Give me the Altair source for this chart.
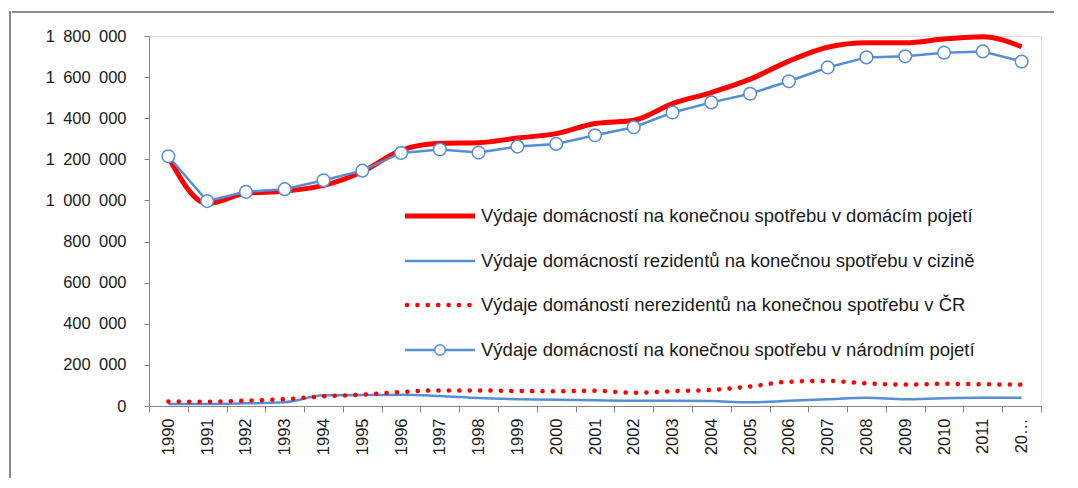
import altair as alt
import pandas as pd

years = list(range(1990, 2013))
domestic = [1210000, 985000, 1035000, 1045000, 1073000, 1140000, 1244000, 1278000,
            1281000, 1304000, 1325000, 1374000, 1390000, 1471000, 1525000, 1590000,
            1678000, 1745000, 1767000, 1767000, 1785000, 1796000, 1748000]
national = [1215000, 997000, 1042000, 1055000, 1098000, 1145000, 1231000, 1248000,
            1233000, 1262000, 1275000, 1317000, 1356000, 1428000, 1477000, 1519000,
            1580000, 1647000, 1696000, 1701000, 1719000, 1725000, 1676000]
abroad = [10000, 10000, 13000, 18000, 52000, 53000, 55000, 49000, 39000, 33000,
          30000, 28000, 26000, 26000, 24000, 18000, 25000, 33000, 40000, 33000,
          38000, 40000, 40000]
nonres = [22000, 21000, 26000, 33000, 47000, 55000, 68000, 76000, 76000, 73000,
          72000, 74000, 64000, 72000, 78000, 95000, 118000, 122000, 110000, 104000,
          108000, 106000, 104000]

legend_labels = [
    "Výdaje domácností na konečnou spotřebu v domácím pojetí",
    "Výdaje domácností rezidentů na konečnou spotřebu v cizině",
    "Výdaje domáností nerezidentů na konečnou spotřebu v ČR",
    "Výdaje domácností na konečnou spotřebu v národním pojetí",
]
y_ticks = [0, 200000, 400000, 600000, 800000, 1000000, 1200000, 1400000, 1600000, 1800000]

df = pd.DataFrame({"year": years, "domestic": domestic, "national": national,
                   "abroad": abroad, "nonres": nonres})

RED = "#FF0000"
BLUE = "#558ED5"
GRAY = "#868686"
FONT = "Liberation Sans"

xscale = alt.Scale(domain=[1989.5, 2012.5], nice=False, zero=False)
yscale = alt.Scale(domain=[0, 1800000], nice=False)
yaxis = alt.Axis(values=y_ticks, grid=False, title=None, tickSize=5, labelPadding=18,
                 domainColor=GRAY, tickColor=GRAY, labelFont=FONT, labelFontSize=16.5,
                 labelColor="#1a1a1a",
                 labelExpr="replace(format(datum.value, ','), /,/g, '\u2002')")

def Y(field):
    return alt.Y(f"{field}:Q", scale=yscale, axis=yaxis)

tick_axis = alt.Axis(values=[1989.5 + i for i in range(24)], labels=False, tickSize=6,
                     grid=False, title=None, domainColor=GRAY, tickColor=GRAY, orient="bottom")
label_axis = alt.Axis(values=years, ticks=False, domain=False, grid=False, title=None,
                      labelAngle=270, labelAlign="right", labelBaseline="middle",
                      labelPadding=12, labelFont=FONT, labelFontSize=16.5, labelColor="#1a1a1a",
                      orient="bottom", labelOverlap=False,
                      labelExpr="datum.value == 2012 ? '20…' : datum.value")

base = alt.Chart(df)

abroad_line = base.mark_line(color=BLUE, strokeWidth=2.5, interpolate="monotone").encode(
    x=alt.X("year:Q", scale=xscale, axis=label_axis), y=Y("abroad"))
nonres_line = base.mark_line(color=RED, strokeWidth=4.5, strokeDash=[0.1, 10.3],
                             strokeCap="round", interpolate="monotone").encode(
    x=alt.X("year:Q", scale=xscale, axis=None), y=Y("nonres"))
domestic_line = base.mark_line(color=RED, strokeWidth=5, interpolate="monotone").encode(
    x=alt.X("year:Q", scale=xscale, axis=tick_axis), y=Y("domestic"))
national_line = base.mark_line(color=BLUE, strokeWidth=2.5).encode(
    x=alt.X("year:Q", scale=xscale, axis=None), y=Y("national"))
national_pts = base.mark_point(shape="circle", filled=True, fill="white", stroke=BLUE,
                               strokeWidth=1.5, size=160, opacity=1).encode(
    x=alt.X("year:Q", scale=xscale, axis=None), y=Y("national"))

# legend (drawn inside the plot)
leg_rows = [180, 225, 269, 314]
lx0, lx1, ltx = 256, 326, 332
leg_layers = []
one = alt.Chart(pd.DataFrame({"k": [0]}))
leg_layers.append(one.mark_rule(color=RED, strokeWidth=5).encode(
    x=alt.value(lx0), x2=alt.value(lx1), y=alt.value(leg_rows[0]), y2=alt.value(leg_rows[0])))
leg_layers.append(one.mark_rule(color=BLUE, strokeWidth=2.5).encode(
    x=alt.value(lx0), x2=alt.value(lx1), y=alt.value(leg_rows[1]), y2=alt.value(leg_rows[1])))
leg_layers.append(one.mark_rule(color=RED, strokeWidth=4.5, strokeDash=[0.1, 10.3],
                                strokeCap="round").encode(
    x=alt.value(lx0 + 2), x2=alt.value(lx1 - 2), y=alt.value(leg_rows[2]), y2=alt.value(leg_rows[2])))
leg_layers.append(one.mark_rule(color=BLUE, strokeWidth=2.5).encode(
    x=alt.value(lx0), x2=alt.value(lx1), y=alt.value(leg_rows[3]), y2=alt.value(leg_rows[3])))
leg_layers.append(one.mark_point(shape="circle", filled=True, fill="white", stroke=BLUE,
                                 strokeWidth=1.5, size=110, opacity=1).encode(
    x=alt.value((lx0 + lx1) / 2), y=alt.value(leg_rows[3])))
for lab, yy in zip(legend_labels, leg_rows):
    leg_layers.append(alt.Chart(pd.DataFrame({"t": [lab]})).mark_text(
        align="left", baseline="middle", font=FONT, fontSize=18.5, color="#1a1a1a").encode(
        x=alt.value(ltx), y=alt.value(yy), text="t:N"))

# outer frame: top border in two pieces (drawn first), then the left border
frame_top_a = one.mark_rect(color="#8a8a8a").encode(
    x=alt.value(-137), x2=alt.value(0), y=alt.value(-25), y2=alt.value(-23))
frame_top_b = one.mark_rect(color="#8b8b8b").encode(
    x=alt.value(0), x2=alt.value(905), y=alt.value(-25), y2=alt.value(-23))
frame_left = one.mark_rect(color="#8c8c8c").encode(
    x=alt.value(-140), x2=alt.value(-138), y=alt.value(-25), y2=alt.value(442))

chart = alt.layer(
    frame_top_a, frame_top_b,
    abroad_line, nonres_line, domestic_line, national_line, national_pts,
    *leg_layers, frame_left
).resolve_axis(x="independent").properties(
    width=892, height=370,
    padding={"left": 1, "top": 3, "right": 0, "bottom": 0},
).configure_view(stroke=None).configure(background="white")

chart.save("out.html", embed_options={"renderer": "svg", "actions": False})
